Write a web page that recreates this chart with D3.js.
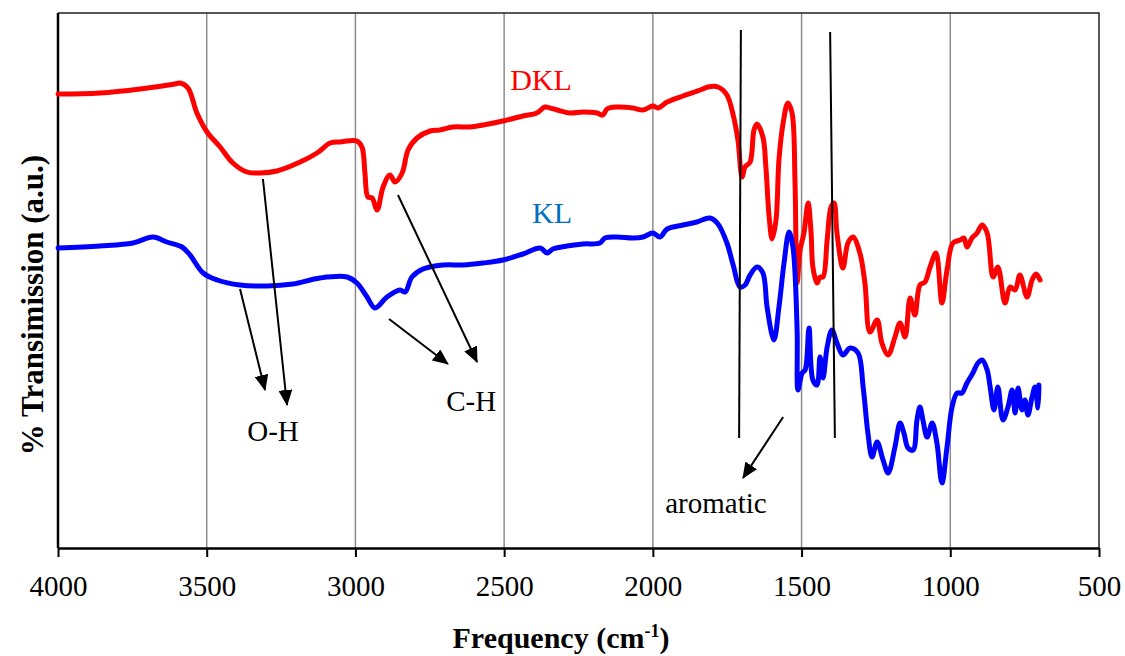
<!DOCTYPE html>
<html>
<head>
<meta charset="utf-8">
<script src="https://cdn.jsdelivr.net/npm/d3@7"></script>
<style>
  body { margin: 0; background: #fff; }
  text { font-family: "Liberation Serif", "Times New Roman", serif; }
</style>
</head>
<body>
<div id="chart"></div>
<script>

// wavenumber (cm-1) of each reading, DKL curve
var dklFreq = [4000, 3859, 3724, 3607, 3590, 3563, 3533, 3499, 3455, 3412, 3365, 3321, 3264, 3186, 3129, 3085, 3052,
    2995, 2978, 2968, 2958, 2944, 2927, 2907, 2884, 2867, 2843, 2823, 2793, 2749, 2716, 2672, 2615, 2571, 2504, 2437,
    2390, 2363, 2346, 2322, 2279, 2235, 2188, 2168, 2154, 2121, 2067, 2033, 2000, 1983, 1952, 1899, 1841, 1815, 1781,
    1751, 1730, 1714, 1700, 1690, 1673, 1660, 1650, 1630, 1620, 1609, 1599, 1586, 1576, 1562, 1546, 1532, 1522, 1515,
    1505, 1492, 1478, 1468, 1462, 1448, 1438, 1428, 1414, 1401, 1391, 1381, 1361, 1344, 1327, 1304, 1287, 1270, 1246,
    1230, 1209, 1186, 1169, 1152, 1135, 1119, 1102, 1085, 1068, 1048, 1028, 1011, 991, 967, 954, 944, 927, 910, 893,
    876, 856, 840, 816, 799, 782, 766, 742, 725, 712, 698];
var dklTrans = [90.8, 91.0, 91.8, 92.8, 93.0, 92.0, 87.0, 83.2, 80.2, 77.0, 75.2, 75.0, 75.4, 77.2, 79.0, 81.0, 81.2,
    81.4, 80.2, 75.0, 70.2, 70.0, 67.6, 72.2, 74.6, 73.2, 75.0, 79.6, 82.0, 83.4, 83.6, 84.2, 84.2, 84.6, 85.4, 86.4,
    87.0, 88.2, 88.0, 87.6, 87.0, 87.2, 87.0, 86.6, 87.8, 88.2, 88.0, 87.6, 88.4, 88.0, 89.2, 90.4, 91.6, 92.2, 92.2,
    90.6, 86.6, 81.6, 74.2, 76.2, 77.2, 83.6, 84.8, 82.2, 76.2, 66.2, 61.8, 65.6, 77.6, 85.0, 89.0, 87.0, 73.0, 53.0,
    59.6, 63.0, 69.0, 63.0, 56.2, 53.0, 54.2, 54.2, 61.6, 68.2, 69.0, 63.0, 56.0, 61.0, 62.2, 59.0, 53.0, 43.2, 45.6,
    41.0, 38.6, 42.2, 45.0, 42.2, 50.0, 46.6, 52.6, 53.2, 56.2, 59.0, 49.0, 55.6, 61.0, 61.6, 62.0, 60.2, 62.0, 63.0, 64.6,
    63.0, 54.2, 56.2, 49.0, 52.2, 51.6, 54.6, 50.2, 53.6, 54.8, 53.6];

// KL curve
var klFreq = [4000, 3859, 3748, 3681, 3634, 3583, 3556, 3512, 3465, 3388, 3297, 3210, 3119, 3028, 2995, 2961, 2934,
    2894, 2850, 2833, 2810, 2773, 2706, 2638, 2571, 2504, 2437, 2379, 2356, 2336, 2289, 2235, 2178, 2161, 2121, 2067,
    2033, 2000, 1976, 1952, 1899, 1852, 1808, 1781, 1751, 1730, 1707, 1690, 1673, 1650, 1630, 1616, 1593, 1576, 1559,
    1542, 1529, 1515, 1512, 1498, 1488, 1475, 1462, 1448, 1438, 1428, 1414, 1398, 1381, 1361, 1337, 1310, 1293, 1277,
    1263, 1246, 1226, 1209, 1186, 1169, 1156, 1142, 1125, 1112, 1102, 1092, 1078, 1061, 1045, 1028, 1011, 994, 977, 961,
    944, 924, 907, 893, 876, 866, 853, 840, 823, 806, 792, 782, 772, 759, 749, 739, 725, 715, 705, 702];
var klTrans = [60.0, 60.4, 61.0, 62.2, 61.2, 60.2, 58.6, 55.0, 53.6, 52.6, 52.4, 52.8, 54.0, 54.2, 53.0, 50.2, 48.0,
    50.2, 51.6, 51.2, 54.2, 55.8, 56.6, 56.6, 57.0, 57.6, 58.8, 60.0, 59.0, 59.8, 60.4, 60.8, 61.0, 62.0, 62.2, 62.0,
    62.2, 63.0, 62.2, 63.8, 64.6, 65.2, 66.0, 64.8, 61.0, 56.6, 52.2, 52.6, 54.6, 56.2, 55.0, 48.2, 41.6, 48.2, 57.0,
    63.2, 60.2, 43.6, 31.6, 35.0, 35.6, 44.0, 33.6, 32.6, 38.2, 34.0, 40.2, 43.6, 41.0, 38.6, 40.0, 39.0, 32.2, 23.0,
    18.2, 21.2, 17.6, 15.0, 20.2, 25.0, 23.0, 20.0, 19.6, 25.6, 28.2, 25.6, 22.2, 25.0, 21.0, 13.0, 20.2, 28.2, 31.0, 31.0,
    33.0, 35.0, 37.0, 37.6, 35.6, 32.2, 27.6, 32.2, 25.6, 28.2, 31.6, 27.0, 32.0, 27.6, 29.6, 26.6, 30.2, 32.2, 28.0, 32.6];

var xTicks = [4000, 3500, 3000, 2500, 2000, 1500, 1000, 500];

// annotation arrows: [from freq, from value, to freq, to value]
var arrowLines = [
    [3388, 51.8, 3304, 31.6],
    [3311, 73.8, 3230, 28.6],
    [2887, 45.8, 2689, 36.8],
    [2857, 70.6, 2591, 37.2],
    [1562, 26.2, 1697, 14.0]
];
// plain marker lines for the aromatic bands
var bandLines = [
    [1704, 103.6, 1710, 22],
    [1404, 103.2, 1388, 22]
];
var notes = [
    {text: "O-H", f: 3277, v: 21.4},
    {text: "C-H", f: 2611, v: 27.4},
    {text: "aromatic", f: 1788, v: 7.0}
];
var seriesNames = [
    {text: "DKL", f: 2376, v: 91.6, color: "#ff0000"},
    {text: "KL", f: 2339, v: 65.0, color: "#0070c0"}
];

var serif = "'Liberation Serif', 'Times New Roman', serif";

// set the dimensions and margins of the graph
var margin = {top: 13, right: 26, bottom: 108, left: 58},
    width = 1125 - margin.left - margin.right,
    height = 656 - margin.top - margin.bottom;

var svg = d3.select("#chart")
    .append("svg")
    .attr("width", width + margin.left + margin.right)
    .attr("height", height + margin.top + margin.bottom)
    .append("g")
    .attr("transform", "translate(" + margin.left + "," + margin.top + ")");

// x runs backwards, as usual for IR spectra
var x = d3.scaleLinear()
    .domain([4000, 500])
    .range([0, width]);

var y = d3.scaleLinear()
    .domain([0, 107])
    .range([height, 0]);

// vertical grid lines
svg.selectAll(".grid")
    .data(xTicks.slice(1, -1))
    .enter()
    .append("line")
    .attr("x1", d => x(d))
    .attr("x2", d => x(d))
    .attr("y1", 0)
    .attr("y2", height)
    .attr("stroke", "#8c8c8c")
    .attr("stroke-width", 1.5);

// frame top and right
svg.append("path")
    .attr("d", "M0,0H" + width + "V" + height)
    .attr("fill", "none")
    .attr("stroke", "#222")
    .attr("stroke-width", 1.5);

// Add X axis
var xAxis = svg.append("g")
    .attr("transform", "translate(0," + height + ")")
    .call(d3.axisBottom(x)
        .tickValues(xTicks)
        .tickFormat(d3.format("d"))
        .tickSize(9)
        .tickPadding(18)
        .tickSizeOuter(0))
    .attr("font-family", serif)
    .attr("font-size", 29);
xAxis.select(".domain").attr("stroke", "#000").attr("stroke-width", 2.5);
xAxis.selectAll(".tick line").attr("stroke", "#000").attr("stroke-width", 2);
xAxis.selectAll(".tick text").attr("fill", "#000");

// Add Y axis, line only
svg.append("line")
    .attr("x1", 0).attr("x2", 0)
    .attr("y1", 0).attr("y2", height)
    .attr("stroke", "#000")
    .attr("stroke-width", 2.5);

// axis titles
var xTitle = svg.append("text")
    .attr("x", 561 - margin.left)
    .attr("y", 648 - margin.top)
    .attr("text-anchor", "middle")
    .style("font-size", "30px")
    .style("font-weight", "bold");
xTitle.append("tspan").text("Frequency (cm");
xTitle.append("tspan").attr("dy", -11).style("font-size", "18px").text("-1");
xTitle.append("tspan").attr("dy", 11).text(")");

svg.append("text")
    .attr("transform", "rotate(-90)")
    .attr("x", -(305 - margin.top))
    .attr("y", 43 - margin.left)
    .attr("text-anchor", "middle")
    .style("font-size", "31px")
    .style("font-weight", "bold")
    .text("% Transimission (a.u.)");

// the spectra
var line = d3.line()
    .x(d => x(d[0]))
    .y(d => y(d[1]))
    .curve(d3.curveCatmullRom.alpha(0.5));

var dataReady = [
    {name: "DKL", color: "#ff0000", values: d3.zip(dklFreq, dklTrans)},
    {name: "KL", color: "#0000ff", values: d3.zip(klFreq, klTrans)}
];

svg.selectAll(".spectrum")
    .data(dataReady)
    .enter()
    .append("path")
    .attr("d", d => line(d.values))
    .attr("fill", "none")
    .attr("stroke", d => d.color)
    .attr("stroke-width", 5)
    .attr("stroke-linejoin", "round")
    .attr("stroke-linecap", "round");

// arrow head
svg.append("defs").append("marker")
    .attr("id", "head")
    .attr("viewBox", "0 0 16 14")
    .attr("refX", 15)
    .attr("refY", 7)
    .attr("markerWidth", 16)
    .attr("markerHeight", 14)
    .attr("markerUnits", "userSpaceOnUse")
    .attr("orient", "auto")
    .append("path")
    .attr("d", "M0,0L16,7L0,14z")
    .attr("fill", "#000");

svg.selectAll(".arrow")
    .data(arrowLines)
    .enter()
    .append("line")
    .attr("x1", d => x(d[0]))
    .attr("y1", d => y(d[1]))
    .attr("x2", d => x(d[2]))
    .attr("y2", d => y(d[3]))
    .attr("stroke", "#000")
    .attr("stroke-width", 2)
    .attr("marker-end", "url(#head)");

svg.selectAll(".band")
    .data(bandLines)
    .enter()
    .append("line")
    .attr("x1", d => x(d[0]))
    .attr("y1", d => y(d[1]))
    .attr("x2", d => x(d[2]))
    .attr("y2", d => y(d[3]))
    .attr("stroke", "#000")
    .attr("stroke-width", 2);

svg.selectAll(".note")
    .data(notes)
    .enter()
    .append("text")
    .attr("x", d => x(d.f))
    .attr("y", d => y(d.v))
    .attr("text-anchor", "middle")
    .style("font-size", "29px")
    .attr("fill", "#000")
    .text(d => d.text);

svg.selectAll(".name")
    .data(seriesNames)
    .enter()
    .append("text")
    .attr("x", d => x(d.f))
    .attr("y", d => y(d.v))
    .attr("text-anchor", "middle")
    .style("font-size", "30px")
    .attr("fill", d => d.color)
    .text(d => d.text);

</script>
</body>
</html>
